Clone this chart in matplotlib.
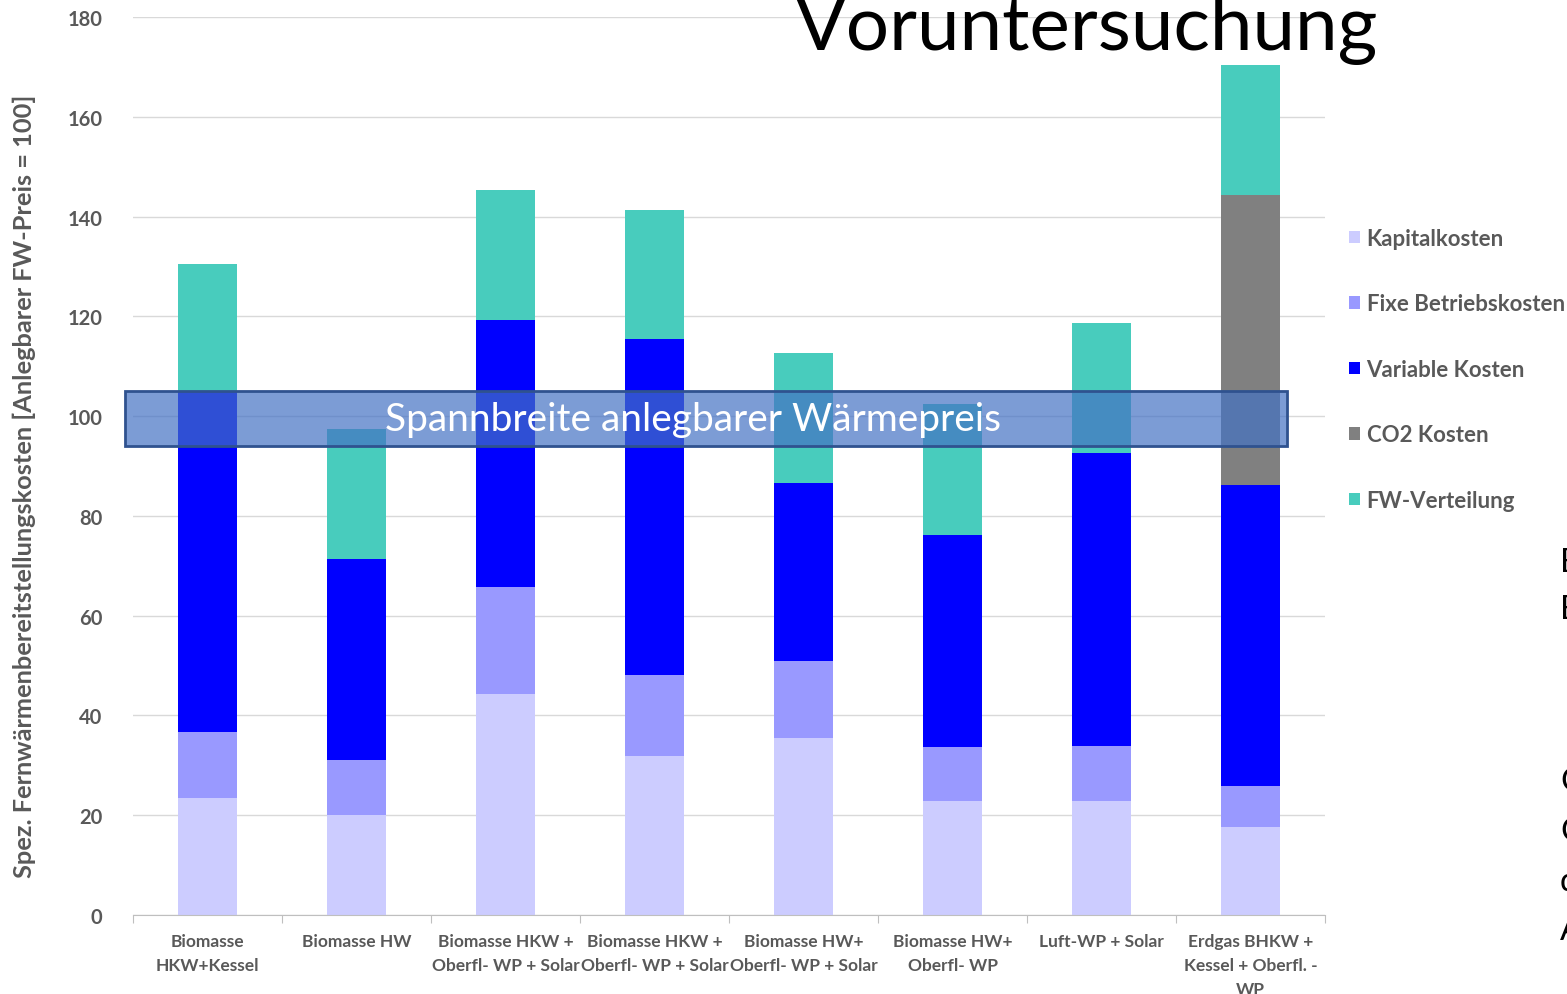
import numpy as np
import matplotlib.pyplot as plt
from matplotlib.patches import Rectangle

plt.rcParams['font.family'] = ['Lato', 'DejaVu Sans']

kategorien = ["Biomasse\nHKW+Kessel", "Biomasse HW", "Biomasse HKW +\nOberfl- WP + Solar",
              "Biomasse HKW +\nOberfl- WP + Solar", "Biomasse HW+\nOberfl- WP + Solar",
              "Biomasse HW+\nOberfl- WP", "Luft-WP + Solar", "Erdgas BHKW +\nKessel + Oberfl. -\nWP"]
kapital = [23.5, 20.1, 44.3, 31.9, 35.4, 22.9, 22.9, 17.6]
fixe = [13.1, 11.0, 21.5, 16.2, 15.5, 10.7, 11.0, 8.3]
variable = [68.4, 40.3, 53.4, 67.4, 35.7, 42.6, 58.8, 60.2]
co2 = [0, 0, 0, 0, 0, 0, 0, 58.2]
fw = [25.4, 26.0, 26.1, 25.8, 26.0, 26.2, 25.9, 26.1]

serien = [("Kapitalkosten", kapital, "#ccccff"),
          ("Fixe Betriebskosten", fixe, "#9999ff"),
          ("Variable Kosten", variable, "#0000ff"),
          ("CO2 Kosten", co2, "#808080"),
          ("FW-Verteilung", fw, "#48ccbd")]

band_unten, band_oben = 94.0, 105.0  # Spannbreite anlegbarer Waermepreis
grau = "#595959"

fig = plt.figure(figsize=(15.67, 9.95), dpi=100)
ax = fig.add_axes([0.0849, 0.0794, 0.7607, 0.9025])

x = np.arange(len(kategorien))
unten = np.zeros(len(kategorien))
handles = []
for name, werte, farbe in serien:
    b = ax.bar(x, werte, 0.4, bottom=unten, color=farbe, label=name, zorder=2)
    handles.append(b)
    unten += np.array(werte)

ax.set_xlim(-0.5, 7.5)
ax.set_ylim(0, 180)
ax.set_yticks(np.arange(0, 181, 20))
ax.yaxis.grid(True, color="#d9d9d9", lw=1)
ax.set_axisbelow(True)
for s in ["top", "right", "left"]:
    ax.spines[s].set_visible(False)
ax.spines["bottom"].set_color("#bfbfbf")
ax.tick_params(axis="y", length=0, pad=22, labelsize=14.5, labelcolor=grau)
for t in ax.get_yticklabels():
    t.set_fontweight("bold")

# Kategorien beschriften, Striche zwischen den Gruppen
ax.set_xticks(np.arange(-0.5, 8, 1))
ax.set_xticklabels([])
ax.tick_params(axis="x", length=6, color="#bfbfbf")
for i, lab in enumerate(kategorien):
    ax.text(i, -3.6, lab, ha="center", va="top", fontsize=12.5, fontweight="bold",
            color=grau, linespacing=1.6)

ax.set_ylabel("Spez. Fernwärmenbereitstellungskosten [Anlegbarer FW-Preis = 100]",
              fontsize=18.3, fontweight="bold", color=grau)
ax.yaxis.set_label_coords(-0.081, 0.478)

# Band
ax.add_patch(Rectangle((-0.554, band_unten), 7.8, band_oben - band_unten,
                       facecolor="#4472c4", alpha=0.7, edgecolor="none", zorder=3, clip_on=False))
ax.add_patch(Rectangle((-0.554, band_unten), 7.8, band_oben - band_unten,
                       facecolor="none", edgecolor="#2f528f", lw=2, zorder=4, clip_on=False))
ax.text(3.26, 99.4, "Spannbreite anlegbarer Wärmepreis", ha="center", va="center",
        fontsize=28, color="white", zorder=5)

fig.legend(handles=handles, loc="upper left", bbox_to_anchor=(0.848, 0.79), frameon=False,
           handlelength=0.5, handleheight=0.5, handletextpad=0.3, labelspacing=2.0,
           prop={"weight": "bold", "size": 16}, labelcolor=grau)

fig.text(0.507, 0.95, "Voruntersuchung", fontsize=55, color="black")

# abgeschnittener Folientext am rechten Rand
for ytxt, s in [(0.425, "Erste"), (0.378, "Ergebnisse"), (0.205, "Ccheck"),
                (0.155, "CO2"), (0.105, "der"), (0.055, "Anlage")]:
    fig.text(0.9955, ytxt, s, fontsize=24, color="black")

fig.savefig("out.png", dpi=100)
